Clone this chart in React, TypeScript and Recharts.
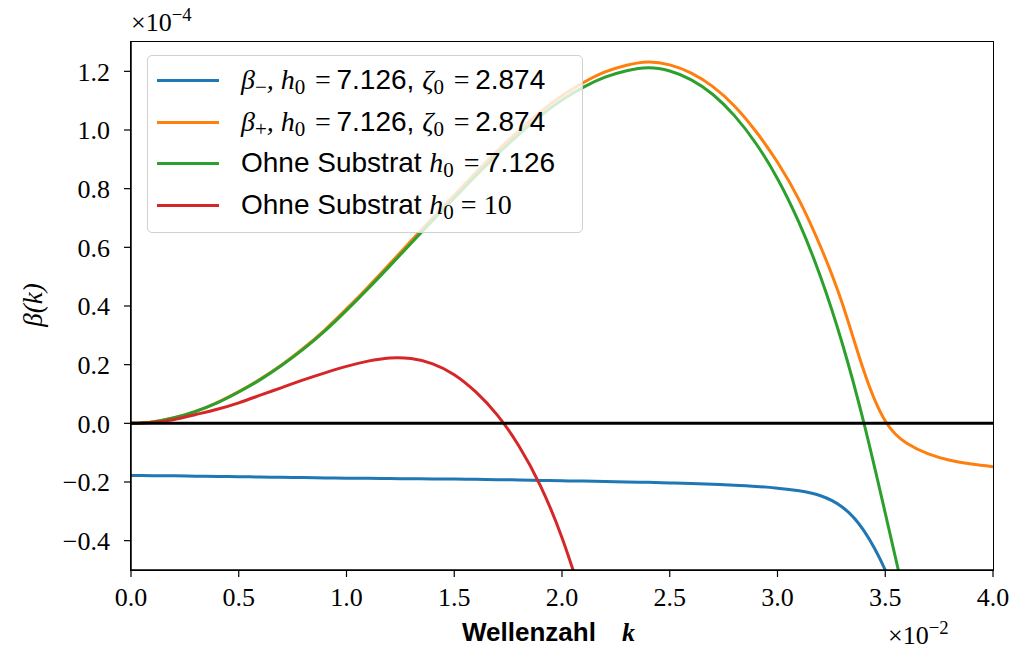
import { LineChart, Line, XAxis, YAxis, ReferenceLine } from "recharts";

// wavenumber k (x 10^-2) and growth rate beta (x 10^-4)
const kMinus = [0, 0.1, 0.2, 0.3, 0.4, 0.5, 0.6, 0.7, 0.8, 0.9, 1.0, 1.1, 1.2, 1.3, 1.4, 1.5, 1.6, 1.7, 1.8, 1.9, 2.0, 2.1, 2.2, 2.3, 2.4, 2.5, 2.6, 2.7, 2.8, 2.9, 3.0, 3.1, 3.2, 3.3, 3.4, 3.5, 3.55];
const betaMinus = [-0.178, -0.1785, -0.179, -0.18, -0.181, -0.182, -0.183, -0.184, -0.185, -0.186, -0.187, -0.1875, -0.188, -0.189, -0.1895, -0.19, -0.191, -0.192, -0.193, -0.1945, -0.196, -0.197, -0.198, -0.2, -0.201, -0.203, -0.205, -0.208, -0.211, -0.215, -0.221, -0.23, -0.247, -0.285, -0.365, -0.5, -0.6];

const kPlus = [0, 0.1, 0.2, 0.3, 0.4, 0.5, 0.6, 0.7, 0.8, 0.9, 1.0, 1.1, 1.2, 1.3, 1.4, 1.5, 1.6, 1.7, 1.8, 1.9, 2.0, 2.1, 2.2, 2.3, 2.4, 2.5, 2.6, 2.7, 2.8, 2.9, 3.0, 3.1, 3.2, 3.3, 3.4, 3.5, 3.6, 3.7, 3.8, 3.9, 4.0];
const betaPlus = [0, 0.005, 0.019, 0.041, 0.071, 0.108, 0.151, 0.2, 0.256, 0.319, 0.39, 0.465, 0.543, 0.622, 0.701, 0.778, 0.855, 0.929, 0.998, 1.062, 1.117, 1.162, 1.198, 1.221, 1.232, 1.222, 1.194, 1.148, 1.082, 0.995, 0.89, 0.762, 0.602, 0.41, 0.18, 0.008, -0.068, -0.104, -0.126, -0.139, -0.148];

const kOhne = [0, 0.1, 0.2, 0.3, 0.4, 0.5, 0.6, 0.7, 0.8, 0.9, 1.0, 1.1, 1.2, 1.3, 1.4, 1.5, 1.6, 1.7, 1.8, 1.9, 2.0, 2.1, 2.2, 2.3, 2.4, 2.5, 2.6, 2.7, 2.8, 2.9, 3.0, 3.1, 3.2, 3.3, 3.4, 3.5, 3.6];
const betaOhne = [0, 0.005, 0.019, 0.041, 0.07, 0.107, 0.149, 0.198, 0.253, 0.315, 0.385, 0.459, 0.536, 0.614, 0.692, 0.768, 0.844, 0.917, 0.985, 1.048, 1.102, 1.146, 1.18, 1.202, 1.212, 1.201, 1.171, 1.121, 1.049, 0.954, 0.834, 0.684, 0.499, 0.274, 0.004, -0.306, -0.626];

const kOhne10 = [0, 0.1, 0.2, 0.3, 0.4, 0.5, 0.6, 0.7, 0.8, 0.9, 1.0, 1.1, 1.2, 1.3, 1.4, 1.5, 1.6, 1.7, 1.8, 1.9, 2.0, 2.1];
const betaOhne10 = [0, 0.003, 0.013, 0.03, 0.048, 0.07, 0.096, 0.122, 0.148, 0.172, 0.194, 0.212, 0.223, 0.221, 0.203, 0.166, 0.107, 0.028, -0.077, -0.213, -0.39, -0.61];

const xTicks = [0, 0.5, 1.0, 1.5, 2.0, 2.5, 3.0, 3.5, 4.0];
const yTicks = [-0.4, -0.2, 0.0, 0.2, 0.4, 0.6, 0.8, 1.0, 1.2];

const toRows = (ks: number[], vs: number[]) => ks.map((k, i) => ({ k, y: vs[i] }));

const minusData = toRows(kMinus, betaMinus);
const plusData = toRows(kPlus, betaPlus);
const ohneData = toRows(kOhne, betaOhne);
const ohne10Data = toRows(kOhne10, betaOhne10);

const serif = "'Liberation Serif', 'DejaVu Serif', serif";
const sans = "'Liberation Sans', Arial, sans-serif";
const fmt = (v: number) => v.toFixed(1).replace("-", "\u2212");

const M = ({ children }: { children: any }) => (
  <span style={{ fontFamily: serif, fontStyle: "italic" }}>{children}</span>
);
const Sub = ({ children }: { children: any }) => (
  <sub style={{ fontSize: "0.75em", verticalAlign: "-0.25em", fontStyle: "normal" }}>{children}</sub>
);
const Eq = () => <span style={{ fontStyle: "normal", margin: "0 0.2em 0 0.35em" }}>=</span>;

const legendItems = [
  {
    color: "#1f77b4",
    label: (
      <>
        <M>β<Sub>−</Sub>, h<Sub>0</Sub><Eq /></M>7.126, <M>ζ<Sub>0</Sub><Eq /></M>2.874
      </>
    ),
  },
  {
    color: "#ff7f0e",
    label: (
      <>
        <M>β<Sub>+</Sub>, h<Sub>0</Sub><Eq /></M>7.126, <M>ζ<Sub>0</Sub><Eq /></M>2.874
      </>
    ),
  },
  {
    color: "#2ca02c",
    label: (
      <>
        Ohne Substrat <M>h<Sub>0</Sub><Eq /></M>7.126
      </>
    ),
  },
  {
    color: "#d62728",
    label: (
      <>
        Ohne Substrat <M>h<Sub>0</Sub></M>
        <span style={{ fontFamily: serif }}> = 10</span>
      </>
    ),
  },
];

export default function App() {
  return (
    <div style={{ position: "absolute", left: 0, top: 0, width: 1016, height: 653, background: "#fff" }}>
      <LineChart width={1016} height={653} margin={{ top: 42, right: 23, bottom: 0, left: 0 }}>
        <XAxis
          dataKey="k"
          type="number"
          domain={[0, 4]}
          ticks={xTicks}
          allowDataOverflow
          height={83}
          tickFormatter={fmt}
          tickSize={7}
          tickMargin={11}
          axisLine={{ stroke: "#000", strokeWidth: 1.5 }}
          tickLine={{ stroke: "#000", strokeWidth: 1.2 }}
          tick={{ fill: "#000", fontSize: 26, fontFamily: serif }}
        />
        <YAxis
          type="number"
          domain={[-0.5, 1.3]}
          ticks={yTicks}
          allowDataOverflow
          width={131}
          tickFormatter={fmt}
          tickSize={7}
          tickMargin={14}
          axisLine={{ stroke: "#000", strokeWidth: 1.5 }}
          tickLine={{ stroke: "#000", strokeWidth: 1.2 }}
          tick={{ fill: "#000", fontSize: 26, fontFamily: serif }}
        />
        <Line data={minusData} dataKey="y" type="natural" stroke="#1f77b4" strokeWidth={3} dot={false} isAnimationActive={false} />
        <Line data={plusData} dataKey="y" type="natural" stroke="#ff7f0e" strokeWidth={3} dot={false} isAnimationActive={false} />
        <Line data={ohneData} dataKey="y" type="natural" stroke="#2ca02c" strokeWidth={3} dot={false} isAnimationActive={false} />
        <Line data={ohne10Data} dataKey="y" type="natural" stroke="#d62728" strokeWidth={3} dot={false} isAnimationActive={false} />
        <ReferenceLine y={0} stroke="#000" strokeWidth={3} />
      </LineChart>

      {/* frame around the plot area */}
      <div
        style={{
          position: "absolute",
          left: 130.25,
          top: 41.25,
          width: 863.5,
          height: 529.5,
          border: "1.5px solid #000",
          boxSizing: "border-box",
          pointerEvents: "none",
        }}
      />

      {/* legend */}
      <div
        style={{
          position: "absolute",
          left: 147,
          top: 55,
          width: 436,
          height: 178,
          border: "1.5px solid #d0d0d0",
          borderRadius: 5,
          background: "rgba(255,255,255,0.8)",
          boxSizing: "border-box",
        }}
      >
        {legendItems.map((it, i) => (
          <div key={i} style={{ position: "absolute", left: 0, top: 6 + i * 41.5, height: 40, width: "100%" }}>
            <div style={{ position: "absolute", left: 9, top: 17, width: 62, height: 3, background: it.color }} />
            <div
              style={{
                position: "absolute",
                left: 93,
                top: 0,
                fontFamily: sans,
                fontSize: 28,
                lineHeight: "36px",
                whiteSpace: "nowrap",
                color: "#000",
              }}
            >
              {it.label}
            </div>
          </div>
        ))}
      </div>

      {/* axis offsets and titles */}
      <div style={{ position: "absolute", left: 131, top: 4, fontFamily: serif, fontSize: 26, whiteSpace: "nowrap" }}>
        ×10<sup style={{ fontSize: "0.72em", verticalAlign: "0.55em" }}>−4</sup>
      </div>
      <div style={{ position: "absolute", left: 888, top: 617, fontFamily: serif, fontSize: 26, whiteSpace: "nowrap" }}>
        ×10<sup style={{ fontSize: "0.72em", verticalAlign: "0.55em" }}>−2</sup>
      </div>
      <div
        style={{
          position: "absolute",
          left: 462,
          top: 617,
          fontFamily: sans,
          fontWeight: "bold",
          fontSize: 26,
          whiteSpace: "nowrap",
        }}
      >
        Wellenzahl{"\u2003"}
        <span style={{ fontFamily: serif, fontStyle: "italic" }}>k</span>
      </div>
      <div
        style={{
          position: "absolute",
          left: 33,
          top: 305,
          transform: "translate(-50%, -50%) rotate(-90deg)",
          fontFamily: serif,
          fontStyle: "italic",
          fontSize: 27,
          whiteSpace: "nowrap",
        }}
      >
        β(k)
      </div>
    </div>
  );
}
